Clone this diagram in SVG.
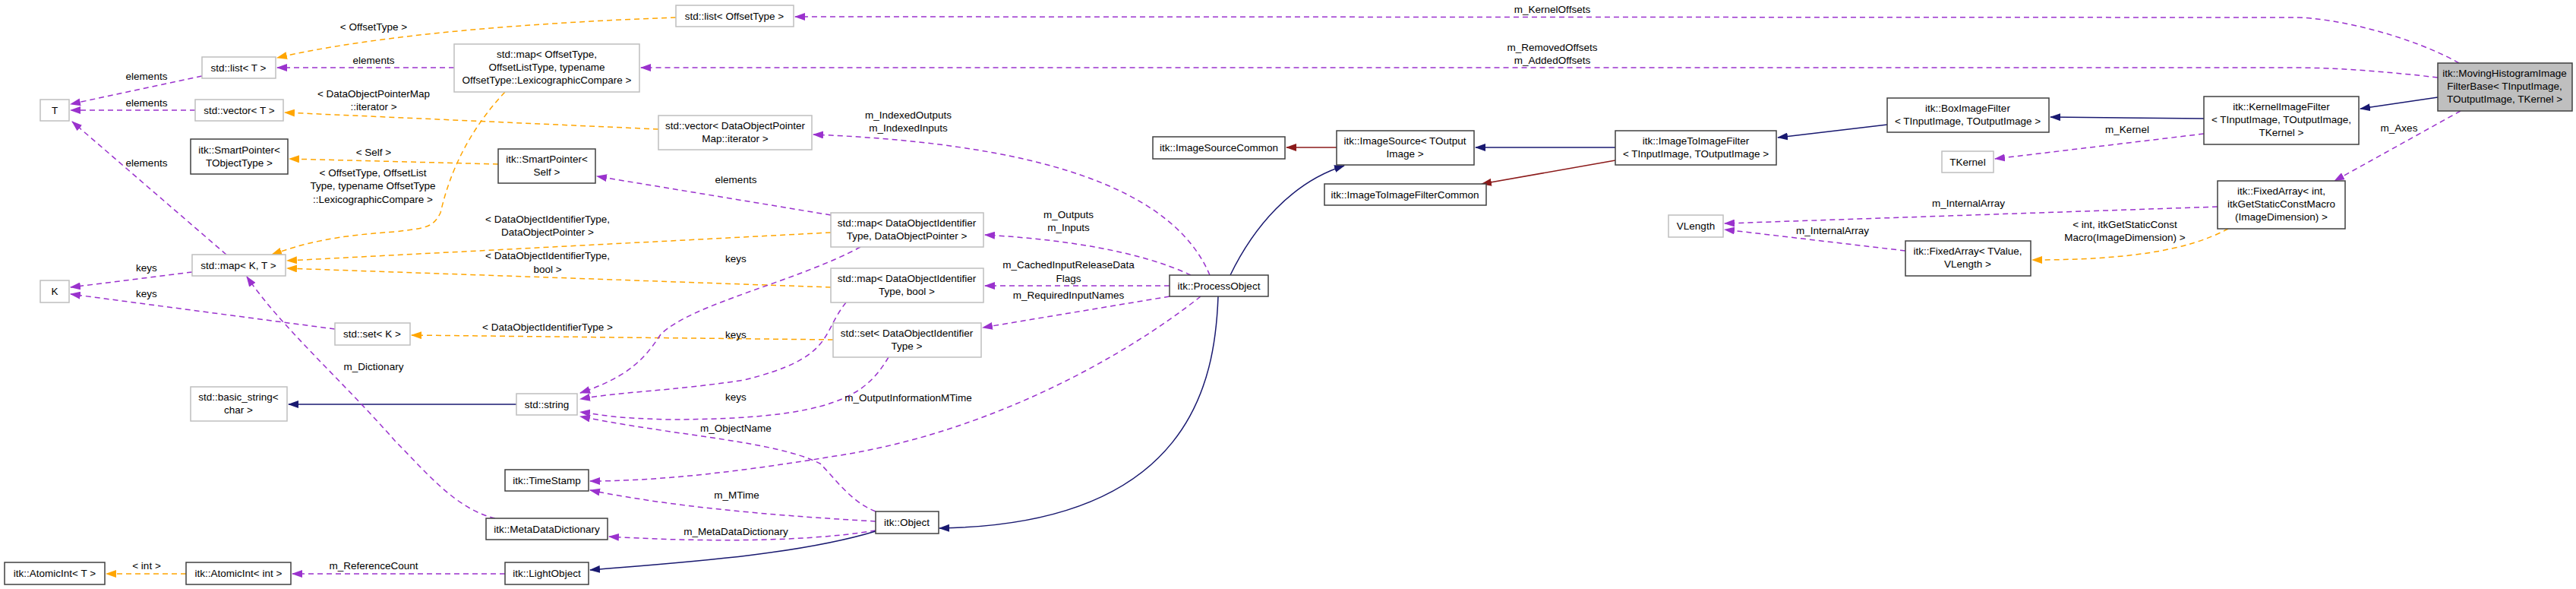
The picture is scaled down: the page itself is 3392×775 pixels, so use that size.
<svg xmlns="http://www.w3.org/2000/svg" width="3392" height="775" viewBox="0 0 3392 775">
<style>
text{font-family:"Liberation Sans",Arial,sans-serif;font-size:13.5px;fill:#000;text-anchor:middle}
.n rect{fill:#fff;stroke:#404040;stroke-width:1.5}
.g rect{fill:#fff;stroke:#bfbfbf;stroke-width:1.5}
.m rect{fill:#bfbfbf;stroke:#404040;stroke-width:1.5}
.p{fill:none;stroke:#9a32cd;stroke-width:1.5;stroke-dasharray:7,5;marker-end:url(#ap)}
.o{fill:none;stroke:#ffa500;stroke-width:1.5;stroke-dasharray:7,5;marker-end:url(#ao)}
.b{fill:none;stroke:#191970;stroke-width:1.5;marker-end:url(#ab)}
.r{fill:none;stroke:#8b1a1a;stroke-width:1.5;marker-end:url(#ar)}
</style>
<defs>
<marker id="ap" markerUnits="userSpaceOnUse" markerWidth="14" markerHeight="10" refX="13" refY="5" orient="auto"><path d="M0,0L14,5L0,10z" fill="#9a32cd"/></marker>
<marker id="ao" markerUnits="userSpaceOnUse" markerWidth="14" markerHeight="10" refX="13" refY="5" orient="auto"><path d="M0,0L14,5L0,10z" fill="#ffa500"/></marker>
<marker id="ab" markerUnits="userSpaceOnUse" markerWidth="14" markerHeight="10" refX="13" refY="5" orient="auto"><path d="M0,0L14,5L0,10z" fill="#191970"/></marker>
<marker id="ar" markerUnits="userSpaceOnUse" markerWidth="14" markerHeight="10" refX="13" refY="5" orient="auto"><path d="M0,0L14,5L0,10z" fill="#8b1a1a"/></marker>
</defs>
<rect width="3392" height="775" fill="#fff"/>
<g id="edges">
<path class="p" d="M3238,83 C3180,50 3080,23 3020,23 L1047,22"/>
<path class="p" d="M3210,102 C3150,95 3080,89 3020,89 L844,89"/>
<path class="p" d="M598,89 L365,89"/>
<path class="o" d="M890,23 C700,30 500,45 365,76"/>
<path class="p" d="M266,100 L93,137"/>
<path class="p" d="M257,145 L93,145"/>
<path class="p" d="M298,335 L95,160"/>
<path class="o" d="M867,170 L375,148"/>
<path class="o" d="M656,216 L381,209"/>
<path class="o" d="M665,121 C600,190 585,260 580,280 C570,300 560,300 520,305 C440,310 400,320 358,335"/>
<path class="o" d="M1094,306 L378,343"/>
<path class="o" d="M1094,378 L378,353"/>
<path class="p" d="M253,358 L93,378"/>
<path class="p" d="M441,433 L93,387"/>
<path class="o" d="M1097,447 L542,441"/>
<path class="b" d="M680,532 L380,532"/>
<path class="p" d="M1133,325 C1050,370 910,400 870,440 C850,470 830,495 764,517"/>
<path class="p" d="M1114,398 C1080,440 1100,470 980,500 C880,515 820,515 764,525"/>
<path class="p" d="M1170,470 C1140,520 1100,552 880,552 C800,550 790,545 764,542"/>
<path class="p" d="M1153,673 C1120,660 1100,630 1080,610 C1020,580 900,575 764,548"/>
<path class="p" d="M1581,390 C1480,470 1300,570 1100,600 C950,625 850,633 777,633"/>
<path class="p" d="M1153,686 C1050,680 900,670 777,645"/>
<path class="p" d="M1153,698 C1050,715 900,712 802,706"/>
<path class="p" d="M652,682 C600,670 560,620 520,580 C450,500 370,430 325,364"/>
<path class="p" d="M665,755 L385,755"/>
<path class="o" d="M245,755 L140,755"/>
<path class="b" d="M1153,699 C1050,730 900,740 777,750"/>
<path class="b" d="M1604,390 C1600,500 1570,690 1237,695"/>
<path class="b" d="M1620,362 C1650,300 1700,240 1770,218"/>
<path class="r" d="M1761,194 L1694,194"/>
<path class="b" d="M2127,194 L1943,194"/>
<path class="r" d="M2127,211 L1951,242"/>
<path class="b" d="M2485,164 L2341,181"/>
<path class="b" d="M2902,156 L2700,154"/>
<path class="b" d="M3210,128 L3108,143"/>
<path class="p" d="M2902,176 L2627,209"/>
<path class="p" d="M3240,146 L3074,238"/>
<path class="p" d="M2920,272 L2271,294"/>
<path class="p" d="M2509,330 L2271,302"/>
<path class="o" d="M2934,301 C2880,330 2800,342 2676,342"/>
<path class="p" d="M1593,362 C1550,260 1400,190 1071,177"/>
<path class="p" d="M1568,362 C1500,330 1400,315 1297,309"/>
<path class="p" d="M1540,376 L1297,376"/>
<path class="p" d="M1540,390 L1294,431"/>
<path class="p" d="M1094,283 L786,232"/>
</g>
<g id="labels">
<text x="2044" y="17">m_KernelOffsets</text>
<text x="2044" y="67">m_RemovedOffsets</text>
<text x="2044" y="84">m_AddedOffsets</text>
<text x="492" y="40">&lt; OffsetType &gt;</text>
<text x="492" y="84">elements</text>
<text x="193" y="105">elements</text>
<text x="193" y="140">elements</text>
<text x="193" y="219">elements</text>
<text x="492" y="128">&lt; DataObjectPointerMap</text>
<text x="492" y="145">::iterator &gt;</text>
<text x="492" y="205">&lt; Self &gt;</text>
<text x="491" y="232">&lt; OffsetType, OffsetList</text>
<text x="491" y="249">Type, typename OffsetType</text>
<text x="491" y="267">::LexicographicCompare &gt;</text>
<text x="721" y="293">&lt; DataObjectIdentifierType,</text>
<text x="721" y="310">DataObjectPointer &gt;</text>
<text x="721" y="341">&lt; DataObjectIdentifierType,</text>
<text x="721" y="359">bool &gt;</text>
<text x="193" y="357">keys</text>
<text x="193" y="391">keys</text>
<text x="721" y="435">&lt; DataObjectIdentifierType &gt;</text>
<text x="492" y="487">m_Dictionary</text>
<text x="193" y="749">&lt; int &gt;</text>
<text x="492" y="749">m_ReferenceCount</text>
<text x="1196" y="156">m_IndexedOutputs</text>
<text x="1196" y="173">m_IndexedInputs</text>
<text x="969" y="241">elements</text>
<text x="1407" y="287">m_Outputs</text>
<text x="1407" y="304">m_Inputs</text>
<text x="969" y="345">keys</text>
<text x="1407" y="353">m_CachedInputReleaseData</text>
<text x="1407" y="371">Flags</text>
<text x="1407" y="393">m_RequiredInputNames</text>
<text x="969" y="445">keys</text>
<text x="969" y="527">keys</text>
<text x="1196" y="528">m_OutputInformationMTime</text>
<text x="969" y="568">m_ObjectName</text>
<text x="970" y="656">m_MTime</text>
<text x="969" y="704">m_MetaDataDictionary</text>
<text x="2801" y="175">m_Kernel</text>
<text x="3159" y="173">m_Axes</text>
<text x="2592" y="272">m_InternalArray</text>
<text x="2413" y="308">m_InternalArray</text>
<text x="2798" y="300">&lt; int, itkGetStaticConst</text>
<text x="2798" y="317">Macro(ImageDimension) &gt;</text>
</g>
<g id="n_mh" class="m"><rect x="3210" y="83" width="177" height="63"/><text x="3298" y="101">itk::MovingHistogramImage</text><text x="3298" y="118">FilterBase&lt; TInputImage,</text><text x="3298" y="135">TOutputImage, TKernel &gt;</text></g>
<g id="n_listoff" class="g"><rect x="890" y="7" width="155" height="28"/><text x="967" y="26">std::list&lt; OffsetType &gt;</text></g>
<g id="n_mapoff" class="g"><rect x="598" y="58" width="244" height="63"/><text x="720" y="76">std::map&lt; OffsetType,</text><text x="720" y="93">OffsetListType, typename</text><text x="720" y="110">OffsetType::LexicographicCompare &gt;</text></g>
<g id="n_listT" class="g"><rect x="266" y="75" width="97" height="28"/><text x="314" y="94">std::list&lt; T &gt;</text></g>
<g id="n_T" class="g"><rect x="53" y="131" width="38" height="28"/><text x="72" y="150">T</text></g>
<g id="n_vecT" class="g"><rect x="257" y="131" width="116" height="28"/><text x="315" y="150">std::vector&lt; T &gt;</text></g>
<g id="n_spt" class="n"><rect x="251" y="183" width="128" height="46"/><text x="315" y="202">itk::SmartPointer&lt;</text><text x="315" y="219">TObjectType &gt;</text></g>
<g id="n_sps" class="n"><rect x="656" y="196" width="128" height="45"/><text x="720" y="214">itk::SmartPointer&lt;</text><text x="720" y="231">Self &gt;</text></g>
<g id="n_mapKT" class="g"><rect x="253" y="335" width="123" height="28"/><text x="314" y="354">std::map&lt; K, T &gt;</text></g>
<g id="n_K" class="g"><rect x="53" y="369" width="38" height="29"/><text x="72" y="388">K</text></g>
<g id="n_setK" class="g"><rect x="441" y="425" width="99" height="29"/><text x="490" y="444">std::set&lt; K &gt;</text></g>
<g id="n_bstr" class="g"><rect x="251" y="509" width="127" height="45"/><text x="314" y="527">std::basic_string&lt;</text><text x="314" y="544">char &gt;</text></g>
<g id="n_str" class="g"><rect x="680" y="518" width="80" height="28"/><text x="720" y="537">std::string</text></g>
<g id="n_ts" class="n"><rect x="665" y="618" width="110" height="28"/><text x="720" y="637">itk::TimeStamp</text></g>
<g id="n_mdd" class="n"><rect x="640" y="682" width="160" height="28"/><text x="720" y="701">itk::MetaDataDictionary</text></g>
<g id="n_aiT" class="n"><rect x="6" y="740" width="132" height="29"/><text x="72" y="759">itk::AtomicInt&lt; T &gt;</text></g>
<g id="n_aiint" class="n"><rect x="245" y="740" width="138" height="29"/><text x="314" y="759">itk::AtomicInt&lt; int &gt;</text></g>
<g id="n_lo" class="n"><rect x="665" y="740" width="110" height="29"/><text x="720" y="759">itk::LightObject</text></g>
<g id="n_vecdop" class="g"><rect x="867" y="152" width="202" height="45"/><text x="968" y="170">std::vector&lt; DataObjectPointer</text><text x="968" y="187">Map::iterator &gt;</text></g>
<g id="n_mapdop" class="g"><rect x="1094" y="280" width="201" height="45"/><text x="1194" y="298">std::map&lt; DataObjectIdentifier</text><text x="1194" y="315">Type, DataObjectPointer &gt;</text></g>
<g id="n_mapbool" class="g"><rect x="1094" y="353" width="201" height="45"/><text x="1194" y="371">std::map&lt; DataObjectIdentifier</text><text x="1194" y="388">Type, bool &gt;</text></g>
<g id="n_setdoi" class="g"><rect x="1097" y="425" width="195" height="45"/><text x="1194" y="443">std::set&lt; DataObjectIdentifier</text><text x="1194" y="460">Type &gt;</text></g>
<g id="n_obj" class="n"><rect x="1153" y="673" width="83" height="29"/><text x="1194" y="692">itk::Object</text></g>
<g id="n_po" class="n"><rect x="1540" y="362" width="130" height="28"/><text x="1605" y="381">itk::ProcessObject</text></g>
<g id="n_isc" class="n"><rect x="1518" y="180" width="174" height="29"/><text x="1605" y="199">itk::ImageSourceCommon</text></g>
<g id="n_is" class="n"><rect x="1760" y="172" width="181" height="45"/><text x="1850" y="190">itk::ImageSource&lt; TOutput</text><text x="1850" y="207">Image &gt;</text></g>
<g id="n_itifc" class="n"><rect x="1744" y="242" width="213" height="28"/><text x="1850" y="261">itk::ImageToImageFilterCommon</text></g>
<g id="n_itif" class="n"><rect x="2127" y="172" width="212" height="45"/><text x="2233" y="190">itk::ImageToImageFilter</text><text x="2233" y="207">&lt; TInputImage, TOutputImage &gt;</text></g>
<g id="n_box" class="n"><rect x="2485" y="129" width="213" height="45"/><text x="2591" y="147">itk::BoxImageFilter</text><text x="2591" y="164">&lt; TInputImage, TOutputImage &gt;</text></g>
<g id="n_tk" class="g"><rect x="2557" y="199" width="68" height="28"/><text x="2591" y="218">TKernel</text></g>
<g id="n_vl" class="g"><rect x="2197" y="283" width="72" height="29"/><text x="2233" y="302">VLength</text></g>
<g id="n_fatv" class="n"><rect x="2509" y="317" width="165" height="46"/><text x="2591" y="335">itk::FixedArray&lt; TValue,</text><text x="2591" y="352">VLength &gt;</text></g>
<g id="n_kif" class="n"><rect x="2902" y="127" width="204" height="63"/><text x="3004" y="145">itk::KernelImageFilter</text><text x="3004" y="162">&lt; TInputImage, TOutputImage,</text><text x="3004" y="179">TKernel &gt;</text></g>
<g id="n_faint" class="n"><rect x="2920" y="238" width="168" height="63"/><text x="3004" y="256">itk::FixedArray&lt; int,</text><text x="3004" y="273">itkGetStaticConstMacro</text><text x="3004" y="290">(ImageDimension) &gt;</text></g>
</svg>
